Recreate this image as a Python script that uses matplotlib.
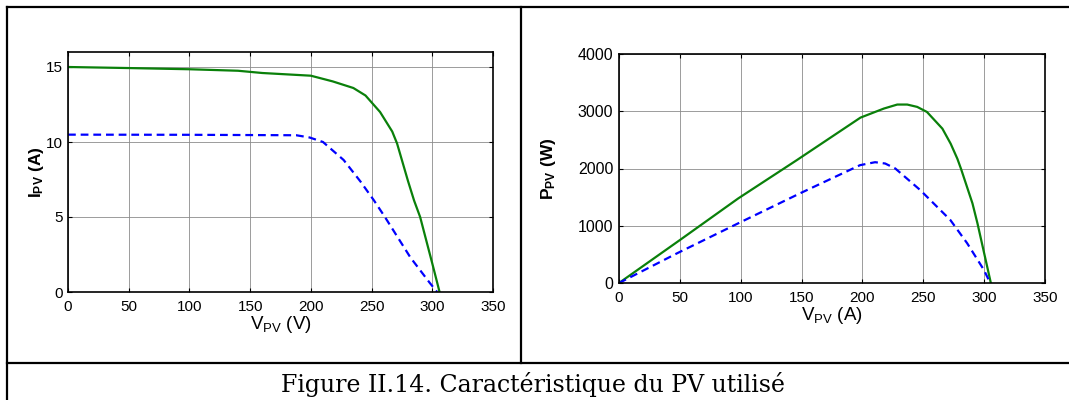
import matplotlib
matplotlib.use("Agg")
from matplotlib import pyplot as plt
from matplotlib.lines import Line2D

plt.rcParams['font.family'] = ['Liberation Sans', 'DejaVu Sans']
plt.rcParams['mathtext.fontset'] = 'custom'
plt.rcParams['mathtext.rm'] = 'Liberation Sans'
plt.rcParams['mathtext.bf'] = 'Liberation Sans:bold'

# I-V curves
v_iv_green = [0, 50, 100, 140, 160, 200, 218, 235, 245, 257, 267, 271, 280, 285, 290, 300, 306]
i_green = [15.0, 14.93, 14.85, 14.75, 14.6, 14.42, 14.04, 13.6, 13.1, 12.0, 10.7, 9.9, 7.4, 6.1, 5.0, 1.9, 0]
v_iv_blue = [0, 100, 188, 199, 210, 227, 241, 252, 261, 282, 298, 304]
i_blue = [10.49, 10.48, 10.45, 10.3, 10.0, 8.8, 7.35, 6.1, 5.0, 2.3, 0.6, 0]

# P-V curves
v_pv_green = [0, 50, 98, 146, 198.4, 217.6, 228.6, 236.8, 245, 253, 265.7, 272.5, 278, 281, 290.4, 294.5, 305.5]
p_green = [0, 750, 1478, 2145, 2889, 3047, 3117, 3117, 3076, 2988, 2696, 2433, 2170, 1994, 1391, 1043, 0]
v_pv_blue = [0, 48, 98, 148.6, 198, 210.4, 218.7, 227, 247.5, 272.2, 286, 299.7, 305]
p_blue = [0, 522, 1043, 1565, 2058, 2110, 2087, 2000, 1623, 1101, 696, 232, 0]

x_ticks = [0, 50, 100, 150, 200, 250, 300, 350]
caption = "Figure II.14. Caractéristique du PV utilisé"

W, H = 1069, 400
fig = plt.figure(figsize=(W / 100, H / 100), dpi=100)


def px_axes(x0, y0, x1, y1):
    return fig.add_axes([x0 / W, 1 - y1 / H, (x1 - x0) / W, (y1 - y0) / H])


def style(ax):
    ax.set_xlim(0, 350)
    ax.set_xticks(x_ticks)
    ax.grid(True, color='0.55', linewidth=0.6, linestyle='-')
    ax.set_axisbelow(True)
    ax.tick_params(direction='in', top=True, right=True, length=3, width=0.8,
                   labelsize=11, pad=4)
    ax.tick_params(axis='x', pad=5.5)
    for s in ax.spines.values():
        s.set_linewidth(1.2)


green = '#0a800a'
blue = '#0000ff'

ax1 = px_axes(68, 52, 493, 292)
ax1.plot(v_iv_green, i_green, color=green, lw=1.6)
ax1.plot(v_iv_blue, i_blue, color=blue, lw=1.6, linestyle=(0, (3.5, 2.2)))
ax1.set_ylim(0, 16)
ax1.set_yticks([0, 5, 10, 15])
style(ax1)
ax1.set_xlabel(r'$\mathrm{V_{PV}}$ (V)', fontsize=13.5, labelpad=0)
ax1.set_ylabel(r'$\mathbf{I_{PV}}$ (A)', fontsize=12.5, fontweight='bold', va='center')
ax1.yaxis.set_label_coords((36 - 68) / 425, 0.5)

ax2 = px_axes(619, 54, 1045, 283)
ax2.plot(v_pv_green, p_green, color=green, lw=1.6)
ax2.plot(v_pv_blue, p_blue, color=blue, lw=1.6, linestyle=(0, (3.5, 2.2)))
ax2.set_ylim(0, 4000)
ax2.set_yticks([0, 1000, 2000, 3000, 4000])
style(ax2)
ax2.tick_params(axis='y', labelsize=11.5)
ax2.set_xlabel(r'$\mathrm{V_{PV}}$ (A)', fontsize=13.5, labelpad=0)
ax2.set_ylabel(r'$\mathbf{P_{PV}}$ (W)', fontsize=12.5, fontweight='bold', va='center')
ax2.yaxis.set_label_coords((548 - 619) / 426, 0.5)

# table frame around the two plots
frame = [((7, W), (7, 7)), ((7, 7), (7, H)), ((7, W), (363, 363)), ((521, 521), (7, 363))]
for xs, ys in frame:
    fig.add_artist(Line2D([x / W for x in xs], [1 - y / H for y in ys],
                          color='black', lw=1.6, transform=fig.transFigure))

fig.text(533 / W, 1 - 392 / H, caption, ha='center', va='baseline',
         fontsize=17, family=['DejaVu Serif'])

fig.savefig('out.png', dpi=100)
